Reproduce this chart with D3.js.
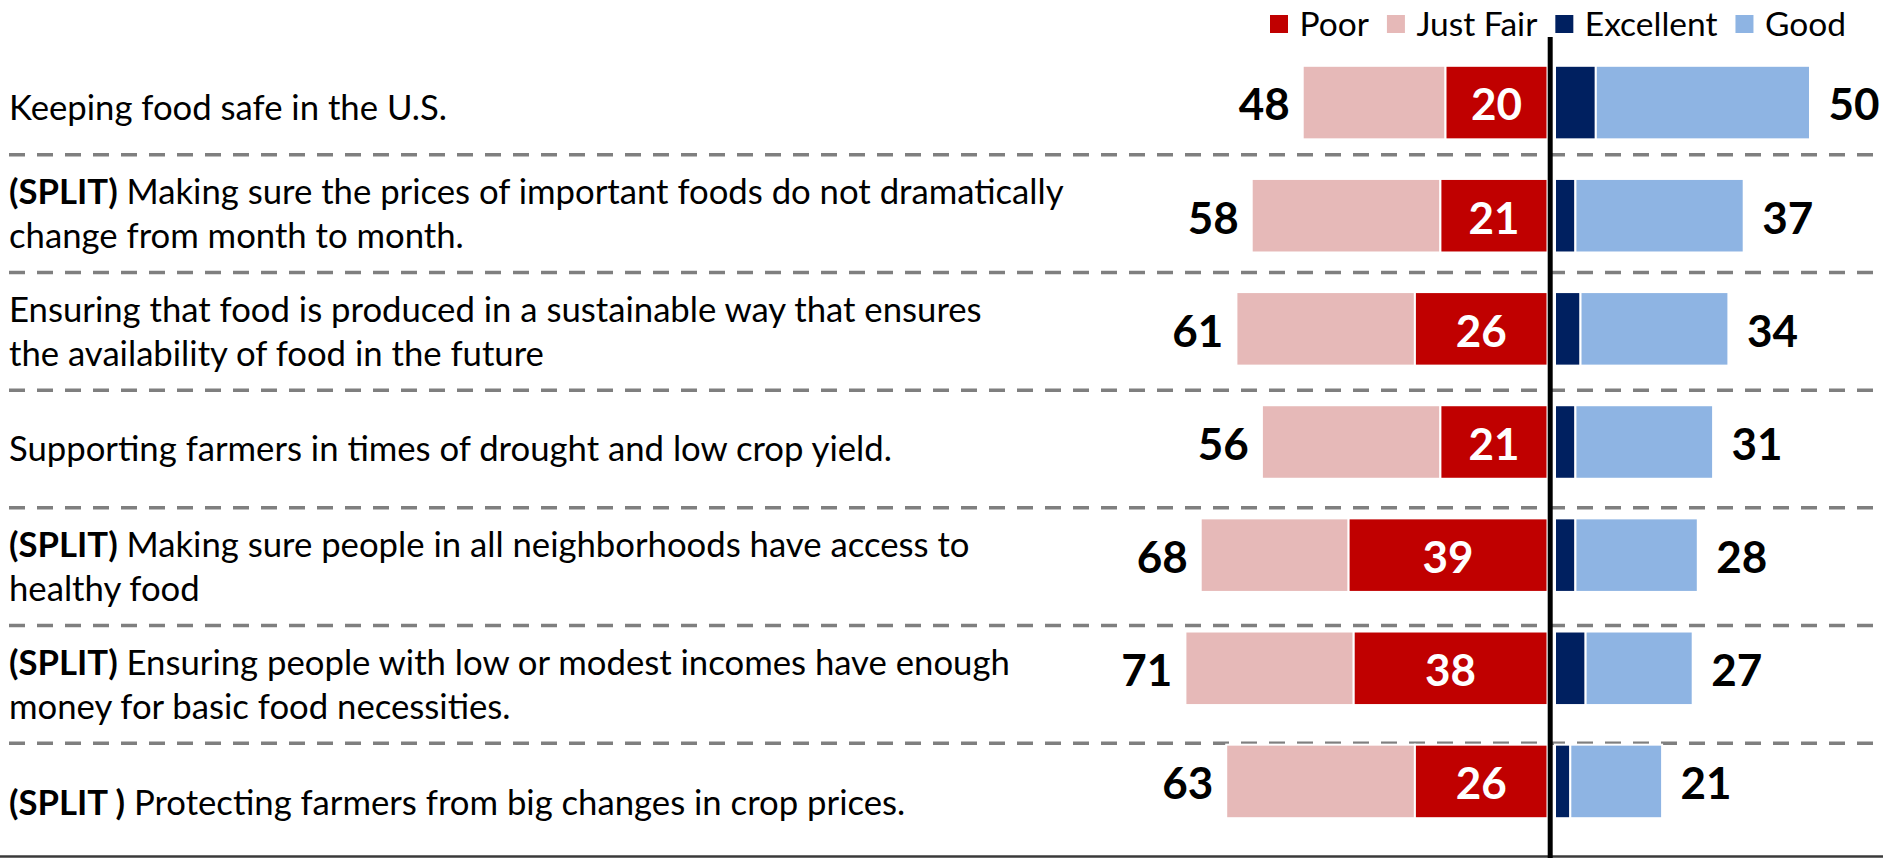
<!DOCTYPE html>
<html>
<head>
<meta charset="utf-8">
<script src="https://cdn.jsdelivr.net/npm/d3@7"></script>
<style>
  html, body { margin: 0; padding: 0; background: #fff; }
  svg { display: block; font-family: Lato, Carlito, Calibri, sans-serif; }
</style>
</head>
<body>
<svg id="chart" width="1883" height="858"></svg>
<script>
// Survey items, one row each (wrapped label lines).
const categories = [
  ["Keeping food safe in the U.S."],
  ["(SPLIT) Making sure the prices of important foods do not dramatically", "change from month to month."],
  ["Ensuring that food is produced in a sustainable way that ensures", "the availability of food in the future"],
  ["Supporting farmers in times of drought and low crop yield."],
  ["(SPLIT) Making sure people in all neighborhoods have access to", "healthy food"],
  ["(SPLIT) Ensuring people with low or modest incomes have enough", "money for basic food necessities."],
  ["(SPLIT ) Protecting farmers from big changes in crop prices."]
];

// Ratings (%), negative side
const poor     = [20, 21, 26, 21, 39, 38, 26];
const justFair = [28, 37, 35, 35, 29, 33, 37];
// Ratings (%), positive side
const excellent = [8, 4, 5, 4, 4, 6, 3];
const good      = [42, 33, 29, 27, 24, 21, 18];

const legendNames  = ["Poor", "Just Fair", "Excellent", "Good"];
const legendColors = ["#C00000", "#E6B9B8", "#002060", "#8EB4E3"];

const W = 1883, H = 858;
const svg = d3.select("#chart");
svg.append("rect").attr("width", W).attr("height", H).attr("fill", "#fff");

const rows = d3.range(categories.length);

// Bars sit on one band grid, the label table on another.
const yBar = d3.scaleBand().domain(rows).range([46, 838]).paddingInner(0.35).paddingOuter(0.175);
const yCell = d3.scaleBand().domain(rows).range([37, 861]).padding(0);
const legendBottom = 60; // the legend strip takes the top of the first cell

// Diverging x: bars grow left and right from the centre rule.
const xLeft  = d3.scaleLinear().domain([0, 100]).range([1547.5, 1037.5]);
const xRight = d3.scaleLinear().domain([0, 100]).range([1555, 2065]);

const labelFont = 34.7, lineGap = 44, numFont = 44, legendFont = 33.5;

// Dashed row separators
svg.append("g").selectAll("line")
  .data(rows.slice(1))
  .join("line")
  .attr("x1", 9).attr("x2", W)
  .attr("y1", d => yCell(d)).attr("y2", d => yCell(d))
  .attr("stroke", "#7f7f7f").attr("stroke-width", 3.5)
  .attr("stroke-dasharray", "16 12");

// Bottom rule
svg.append("line")
  .attr("x1", 0).attr("x2", W).attr("y1", H - 1.5).attr("y2", H - 1.5)
  .attr("stroke", "#3a3a3a").attr("stroke-width", 2.5);

// Row labels, with bold "(SPLIT)" prefix where present
const labelG = svg.append("g").attr("fill", "#000").attr("font-size", labelFont);
rows.forEach(i => {
  const lines = categories[i];
  const top = Math.max(yCell(i), legendBottom);
  const cy = (top + yCell(i) + yCell.bandwidth()) / 2;
  lines.forEach((ln, j) => {
    const y = cy + (j - (lines.length - 1) / 2) * lineGap + labelFont * 0.36;
    const t = labelG.append("text").attr("x", 9).attr("y", y);
    const m = ln.match(/^(\(SPLIT ?\))(.*)$/);
    if (m) {
      t.append("tspan").attr("font-weight", 700).text(m[1]);
      t.append("tspan").text(m[2]);
    } else {
      t.text(ln);
    }
  });
});

// Stacked bars
const barG = svg.append("g").attr("stroke", "#fff").attr("stroke-width", 2);
const segs = [];
rows.forEach(i => {
  segs.push({ row: i, x0: xLeft(poor[i] + justFair[i]), x1: xLeft(poor[i]), c: legendColors[1] });
  segs.push({ row: i, x0: xLeft(poor[i]), x1: xLeft(0), c: legendColors[0] });
  segs.push({ row: i, x0: xRight(0), x1: xRight(excellent[i]), c: legendColors[2] });
  segs.push({ row: i, x0: xRight(excellent[i]), x1: xRight(excellent[i] + good[i]), c: legendColors[3] });
});
barG.selectAll("rect").data(segs).join("rect")
  .attr("x", d => d.x0).attr("width", d => d.x1 - d.x0)
  .attr("y", d => yBar(d.row)).attr("height", yBar.bandwidth())
  .attr("fill", d => d.c);

// Value labels
const numG = svg.append("g").attr("font-size", numFont).attr("font-weight", 700);
const numY = i => yBar(i) + yBar.bandwidth() / 2 + numFont * 0.36 + 2;
rows.forEach(i => {
  numG.append("text")
    .attr("x", (xLeft(poor[i]) + xLeft(0)) / 2).attr("y", numY(i))
    .attr("text-anchor", "middle").attr("fill", "#fff")
    .text(poor[i]);
  numG.append("text")
    .attr("x", xLeft(poor[i] + justFair[i]) - 13).attr("y", numY(i))
    .attr("text-anchor", "end").attr("fill", "#000")
    .text(poor[i] + justFair[i]);
  numG.append("text")
    .attr("x", xRight(excellent[i] + good[i]) + 18.5).attr("y", numY(i))
    .attr("text-anchor", "start").attr("fill", "#000")
    .text(excellent[i] + good[i]);
});

// Centre rule
svg.append("line")
  .attr("x1", 1550.2).attr("x2", 1550.2).attr("y1", 37).attr("y2", H)
  .attr("stroke", "#000").attr("stroke-width", 5);

// Legend
const legG = svg.append("g").attr("font-size", legendFont);
let lx = 1270;
legendNames.forEach((name, k) => {
  legG.append("rect").attr("x", lx).attr("y", 15).attr("width", 18).attr("height", 18)
    .attr("fill", legendColors[k]);
  const t = legG.append("text").attr("x", lx + 29.5).attr("y", 24 + legendFont * 0.36)
    .attr("fill", "#000").text(name);
  lx += 29.5 + t.node().getComputedTextLength() + 18;
});
</script>
</body>
</html>
